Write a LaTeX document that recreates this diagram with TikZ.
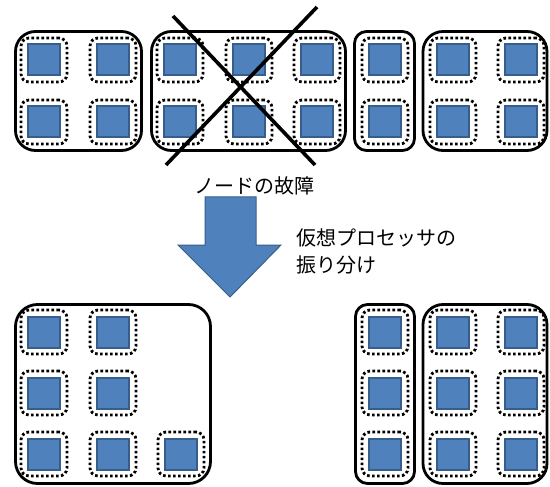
\documentclass[tikz,border=0pt]{standalone}
\usepackage{fontspec}
\newfontfamily\jpfont{Noto Sans CJK JP}
\definecolor{cfill}{HTML}{4F81BD}
\definecolor{cline}{HTML}{385D8A}
\tikzset{
  outerbox/.style={draw=black, line width=2.8pt, rounded corners=20pt, inner sep=0pt},
  dotbox/.style={draw=black, line width=2.8pt, dash pattern=on 2.6pt off 2.4pt, rounded corners=8pt, minimum width=46pt, minimum height=44pt, inner sep=0pt},
  core/.style={draw=cline, fill=cfill, line width=2pt, minimum width=32pt, minimum height=31pt, inner sep=0pt},
  crossline/.style={line width=3.6pt, black},
  bigarrow/.style={fill=cfill, draw=cline, line width=1pt},
  lbl/.style={font=\jpfont\fontsize{20}{27}\selectfont, inner sep=0pt}
}
\newcommand{\peunit}[3]{%
  \node[dotbox] (d#1) at (#2,#3) {};
  \node[core] (c#1) at (#2,#3) {};
}
\begin{document}
\begin{tikzpicture}[x=1pt,y=-1pt]
\useasboundingbox (0,0) rectangle (550,487);
% top outer boxes
\node[outerbox, minimum width=126pt, minimum height=119pt] (t1) at (78.5,91) {};
\node[outerbox, minimum width=194pt, minimum height=119pt] (t2) at (248.5,91) {};
\node[outerbox, rounded corners=12pt, minimum width=60pt, minimum height=119pt] (t3) at (384.5,91) {};
\node[outerbox, minimum width=124pt, minimum height=119pt] (t4) at (485,91) {};
% top units
\peunit{ta}{44}{60}
\peunit{tb}{113}{60}
\peunit{tc}{44}{122}
\peunit{td}{113}{122}
\peunit{te}{180}{60}
\peunit{tf}{249}{60}
\peunit{tg}{317}{60}
\peunit{th}{180}{122}
\peunit{ti}{249}{122}
\peunit{tj}{317}{122}
\peunit{tk}{385}{60}
\peunit{tl}{385}{122}
\peunit{tm}{453}{60}
\peunit{tn}{521}{60}
\peunit{to}{453}{122}
\peunit{tp}{521}{122}
% cross
\coordinate (xa1) at (173,16);
\coordinate (xa2) at (315,165);
\coordinate (xb1) at (166,165);
\coordinate (xb2) at (317,7);
\draw[crossline] (xa1) -- (xa2);
\draw[crossline] (xb1) -- (xb2);
% labels
\node[lbl] (fail) at (254,186) {ノードの故障};
\node[lbl, anchor=west, align=left] (assign) at (296,251) {仮想プロセッサの\\振り分け};
% big arrow
\draw[bigarrow] (205,197) -- (256,197) -- (256,245) -- (281,245) -- (230,297) -- (178,245) -- (205,245) -- cycle;
% bottom outer boxes
\node[outerbox, rounded corners=22pt, minimum width=195pt, minimum height=179pt] (b1) at (113,394) {};
\node[outerbox, rounded corners=12pt, minimum width=59pt, minimum height=179pt] (b3) at (385,394) {};
\node[outerbox, minimum width=124pt, minimum height=179pt] (b4) at (485,394) {};
% bottom units
\peunit{ba}{44}{332}
\peunit{bb}{113}{332}
\peunit{bc}{44}{393}
\peunit{bd}{113}{393}
\peunit{be}{44}{454}
\peunit{bf}{113}{454}
\peunit{bg}{181}{454}
\peunit{bh}{385}{332}
\peunit{bi}{385}{393}
\peunit{bj}{385}{454}
\peunit{bk}{453}{332}
\peunit{bl}{521}{332}
\peunit{bm}{453}{393}
\peunit{bn}{521}{393}
\peunit{bo}{453}{454}
\peunit{bp}{521}{454}
\end{tikzpicture}
\end{document}
